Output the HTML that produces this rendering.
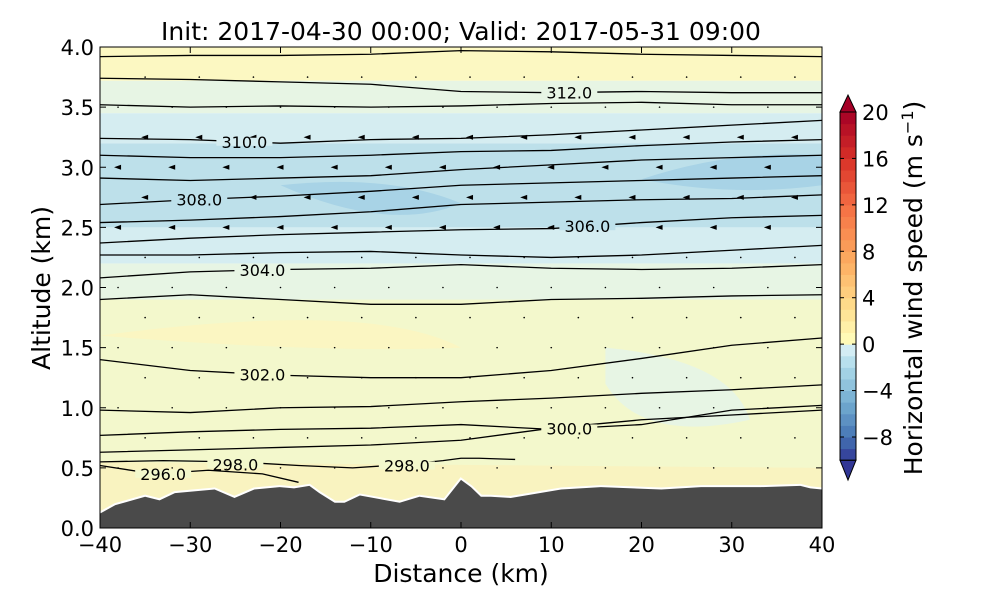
<!DOCTYPE html>
<html><head><meta charset="utf-8"><style>
body{margin:0;background:#fff;}
svg{font-family:"DejaVu Sans","Liberation Sans",sans-serif;}
</style></head><body>
<svg id="c" width="1000" height="600" viewBox="0 0 1000 600"></svg>
<script>
const xTicks=[-40,-30,-20,-10,0,10,20,30,40];
const yTicks=[0.0,0.5,1.0,1.5,2.0,2.5,3.0,3.5,4.0];
const cbTicks=[20,16,12,8,4,0,-4,-8];
const lineX=[-40,-30,-20,-10,0,10,20,30,40];
// isentrope altitudes (km) at lineX
const isentropes=[
[3.92,3.93,3.93,3.94,3.97,3.96,3.94,3.93,3.92],
[3.74,3.73,3.71,3.69,3.63,3.62,3.63,3.62,3.62],
[3.52,3.50,3.51,3.50,3.51,3.53,3.54,3.52,3.52],
[3.24,3.23,3.20,3.23,3.24,3.27,3.31,3.35,3.39],
[3.10,3.08,3.08,3.10,3.13,3.14,3.18,3.21,3.23],
[2.91,2.89,2.91,2.93,2.98,3.02,3.06,3.08,3.10],
[2.69,2.73,2.76,2.80,2.85,2.87,2.89,2.91,2.93],
[2.54,2.56,2.59,2.63,2.69,2.71,2.73,2.74,2.77],
[2.37,2.41,2.44,2.46,2.48,2.49,2.54,2.58,2.60],
[2.27,2.27,2.29,2.30,2.27,2.25,2.27,2.31,2.35],
[2.08,2.13,2.15,2.16,2.19,2.16,2.15,2.16,2.19],
[1.90,1.94,1.90,1.86,1.86,1.90,1.91,1.93,1.94],
[1.40,1.31,1.27,1.25,1.25,1.31,1.41,1.52,1.58],
[0.98,0.96,1.00,1.01,1.05,1.08,1.12,1.15,1.19],
[0.77,0.80,0.82,0.83,0.86,0.82,0.86,0.98,1.02],
[0.63,0.65,0.67,0.69,0.73,0.83,0.90,0.94,0.98]];
const isoLabels=[[1,12,"312.0"],[3,-24,"310.0"],[6,-29,"308.0"],[8,14,"306.0"],[10,-22,"304.0"],[12,-22,"302.0"],[14,12,"300.0"]];
const lowX=[-40,-33,-25,-18,-12,-6,-2,0,2,6];
const lowAlt=[0.55,0.56,0.55,0.52,0.50,0.53,0.56,0.58,0.58,0.57];
const terrX=[-40,-38.3,-35,-33.4,-31.7,-27.3,-25.1,-22.9,-20.1,-18.5,-16.8,-15.7,-14,-12.9,-11.2,-6.8,-4.6,-1.8,0,1.1,2.2,3.3,5.5,11.1,15.5,22.2,26.6,33.2,37.6,38.7,40];
const terrH=[0.12,0.19,0.26,0.23,0.29,0.32,0.25,0.32,0.34,0.33,0.35,0.29,0.21,0.21,0.27,0.21,0.26,0.23,0.40,0.34,0.26,0.26,0.25,0.32,0.34,0.32,0.34,0.34,0.35,0.33,0.32];
const cbLevels=[];for(let v=-10;v<20;v++)cbLevels.push(v);

const NS="http://www.w3.org/2000/svg",svg=document.getElementById('c');
const X0=100,X1=822,Y0=528,Y1=47;
const sx=v=>X0+(v+40)/80*(X1-X0), sy=v=>Y0-v/4*(Y0-Y1);
function el(t,a,p){const e=document.createElementNS(NS,t);for(const k in a)e.setAttribute(k,a[k]);(p||svg).appendChild(e);return e;}
const cmapStops=[[-10,[49,54,149]],[-8,[69,117,180]],[-5,[116,173,209]],[-2,[171,217,233]],[0,[224,243,248]],[0.01,[255,255,191]],[3,[254,224,144]],[7,[253,174,97]],[12,[244,109,67]],[16,[215,48,39]],[20,[165,0,38]]];
function cmap(v){for(let i=0;i<cmapStops.length-1;i++){const a=cmapStops[i],b=cmapStops[i+1];if(v<=b[0]){const t=(v-a[0])/(b[0]-a[0]);return 'rgb('+a[1].map((c,j)=>Math.round(c+(b[1][j]-c)*t)).join(',')+')';}}return 'rgb(165,0,38)';}

// background bands
const bands=[[0,1.9,'#f3f8cc'],[1.9,2.2,'#e7f5e4'],[2.2,2.5,'#d5edf1'],[2.5,3.2,'#bde0ea'],[3.2,3.45,'#d5edf1'],[3.45,3.72,'#e7f5e4'],[3.72,4.0,'#fcf8c2']];
const bg=el('g',{});


bands.forEach(b=>el('rect',{x:X0,y:sy(b[1]),width:X1-X0,height:sy(b[0])-sy(b[1]),fill:b[2]},bg));
el('path',{d:`M${sx(-20)},${sy(2.85)} Q${sx(-8)},${sy(2.45)} ${sx(0)},${sy(2.7)} Q${sx(-8)},${sy(2.95)} ${sx(-20)},${sy(2.85)}Z`,fill:'#a8d3e6'},bg);
el('path',{d:`M${sx(20)},${sy(2.9)} Q${sx(30)},${sy(2.75)} ${sx(40)},${sy(2.85)} L${sx(40)},${sy(3.1)} Q${sx(30)},${sy(3.15)} ${sx(20)},${sy(2.9)}Z`,fill:'#a8d3e6'},bg);
el('path',{d:`M${sx(-40)},${sy(0.55)} L${sx(40)},${sy(0.5)} L${sx(40)},${sy(0.3)} L${sx(-40)},${sy(0.1)}Z`,fill:'#f9f3c0'},bg);
el('path',{d:`M${sx(16)},${sy(1.5)} Q${sx(30)},${sy(1.4)} ${sx(32)},${sy(0.9)} Q${sx(20)},${sy(0.7)} ${sx(16)},${sy(1.2)}Z`,fill:'#e7f5e4'},bg);
el('path',{d:`M${sx(-40)},${sy(1.6)} Q${sx(-10)},${sy(1.9)} ${sx(0)},${sy(1.5)} Q${sx(-15)},${sy(1.45)} ${sx(-40)},${sy(1.6)}Z`,fill:'#fbf6c2'},bg);

// vectors
const vg=el('g',{});


for(let a=0.25;a<4;a+=0.25)for(let d=-38;d<40;d+=6){
  const px=sx(d+((a*4)%2?3:0)),py=sy(a);
  if(a>=2.4&&a<=3.3){el('path',{d:`M${px-4},${py} L${px+3},${py-2.5} L${px+3},${py+2.5}Z`,fill:'#000'},vg);}
  else el('circle',{cx:px,cy:py,r:0.8,fill:'#000'},vg);
}

// isentropes
const lg=el('g',{fill:'none',stroke:'#000','stroke-width':1.3});


isentropes.forEach((ln,i)=>{
  const p=el('polyline',{points:ln.map((a,j)=>sx(lineX[j])+','+sy(a)).join(' ')},lg);
  
  
});
const lp=el('polyline',{points:lowX.map((d,j)=>sx(d)+','+sy(lowAlt[j])).join(' ')},lg);


el('polyline',{points:`${sx(-40)},${sy(0.52)} ${sx(-34)},${sy(0.45)} ${sx(-28)},${sy(0.48)} ${sx(-22)},${sy(0.45)} ${sx(-18)},${sy(0.38)}`},lg);
function interp(arr,d){for(let j=0;j<lineX.length-1;j++)if(d<=lineX[j+1]){const t=(d-lineX[j])/(lineX[j+1]-lineX[j]);return arr[j]+(arr[j+1]-arr[j])*t;}return arr[arr.length-1];}
function bgAt(a){for(const b of bands)if(a>=b[0]&&a<b[1])return b[2];return '#f3f8cc';}
const labs=isoLabels.map(l=>[interp(isentropes[l[0]],l[1]),l[1],l[2]]).concat([[0.53,-25,"298.0"],[0.52,-6,"298.0"],[0.45,-33,"296.0"]]);
labs.forEach(l=>{
  const px=sx(l[1]),py=sy(l[0]);
  el('rect',{x:px-28,y:py-4,width:56,height:8,fill:bgAt(l[0])});
  const t=el('text',{x:px,y:py+6,'text-anchor':'middle','font-size':16,fill:'#000'});t.textContent=l[2];
  
  
});

// terrain
const tp=terrX.map((d,j)=>sx(d)+','+sy(terrH[j])).join(' ');
el('polyline',{points:tp,fill:'none',stroke:'#fff','stroke-width':4});
const tr=el('polygon',{points:`${sx(-40)},${Y0} `+tp+` ${sx(40)},${Y0}`,fill:'#4a4a4a'});



// axes
const ax=el('rect',{x:X0,y:Y1,width:X1-X0,height:Y0-Y1,fill:'none',stroke:'#000','stroke-width':1});


xTicks.forEach(v=>{const x=sx(v);el('line',{x1:x,x2:x,y1:Y0,y2:Y0-6,stroke:'#000'});el('line',{x1:x,x2:x,y1:Y1,y2:Y1+6,stroke:'#000'});
  const t=el('text',{x:x,y:Y0+24,'text-anchor':'middle','font-size':21});t.textContent=(v<0?'\u2212'+(-v):v);
  });
yTicks.forEach(v=>{const y=sy(v);el('line',{x1:X0,x2:X0+6,y1:y,y2:y,stroke:'#000'});el('line',{x1:X1,x2:X1-6,y1:y,y2:y,stroke:'#000'});
  const t=el('text',{x:X0-6,y:y+8,'text-anchor':'end','font-size':21});t.textContent=v.toFixed(1);
  });
let t=el('text',{x:461,y:582,'text-anchor':'middle','font-size':25});t.textContent='Distance (km)';

t=el('text',{x:0,y:0,'text-anchor':'middle','font-size':25,transform:'translate(50,288) rotate(-90)'});t.textContent='Altitude (km)';

t=el('text',{x:461,y:40,'text-anchor':'middle','font-size':25});t.textContent='Init: 2017-04-30 00:00; Valid: 2017-05-31 09:00';


// colorbar
const CX=840,CW=16,cy=v=>112+(20-v)*(325/28);
const cb=el('g',{});


cbLevels.forEach(v=>el('rect',{x:CX,y:cy(v+1),width:CW,height:cy(v)-cy(v+1)+0.5,fill:cmap(v+0.5)},cb));
el('path',{d:`M${CX},${cy(20)} L${CX+CW/2},95 L${CX+CW},${cy(20)}Z`,fill:cmap(20),stroke:'#000'},cb);
el('path',{d:`M${CX},${cy(-10)} L${CX+CW/2},480 L${CX+CW},${cy(-10)}Z`,fill:cmap(-10),stroke:'#000'},cb);
el('rect',{x:CX,y:cy(20),width:CW,height:cy(-10)-cy(20),fill:'none',stroke:'#000'},cb);
cbTicks.forEach(v=>{const y=cy(v);el('line',{x1:CX,x2:CX+4,y1:y,y2:y,stroke:'#000'},cb);el('line',{x1:CX+CW-4,x2:CX+CW,y1:y,y2:y,stroke:'#000'},cb);
  const tt=el('text',{x:CX+CW+6,y:y+8,'font-size':21},cb);tt.textContent=(v<0?'\u2212'+(-v):v);
  });
t=el('text',{x:0,y:0,'text-anchor':'middle','font-size':25,transform:'translate(922,288) rotate(-90)'});
t.innerHTML='Horizontal wind speed (m s<tspan dy="-9" font-size="16">\u22121</tspan><tspan dy="9">)</tspan>';

</script>
</body></html>
